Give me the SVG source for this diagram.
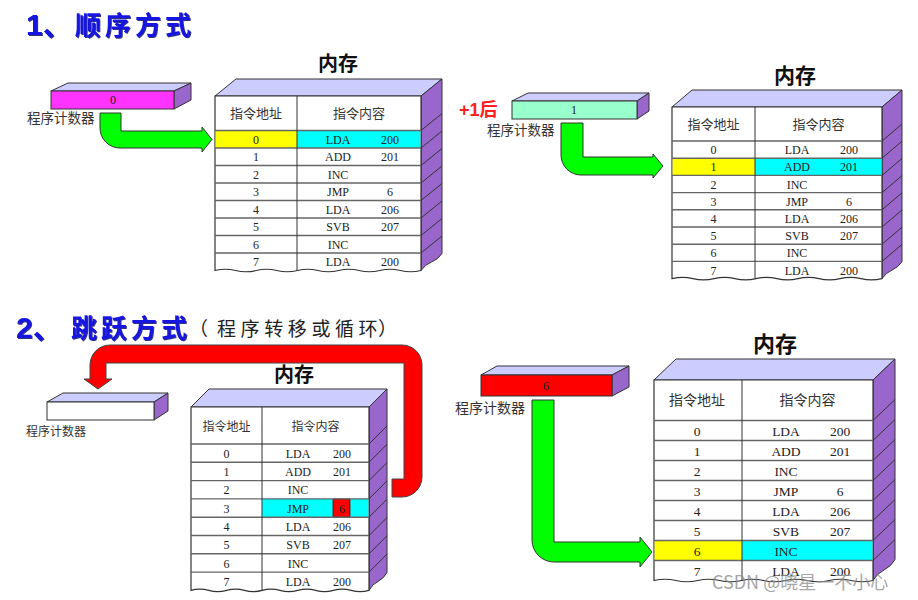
<svg xmlns="http://www.w3.org/2000/svg" width="918" height="600" viewBox="0 0 918 600">
<defs>
<style>
.ttl{font-family:"Liberation Sans","Noto Sans CJK SC",sans-serif;font-weight:bold;fill:#1414e0;filter:url(#sh)}
.sub{font-family:"Noto Sans CJK SC",sans-serif;font-size:19px;fill:#222}
.top{fill:#ccccff;stroke:#333;stroke-width:1}
.side{fill:#9966cc;stroke:#333;stroke-width:1}
.front{fill:#fff;stroke:#333;stroke-width:1.2}
.rl{stroke:#666;stroke-width:1.4;fill:none}
.dg{stroke:#333;stroke-width:1;fill:none}
.hd{font-family:"Noto Sans CJK SC",sans-serif;fill:#333;text-anchor:middle}
.td{font-family:"Liberation Serif","Noto Sans CJK SC",serif;fill:#222;text-anchor:middle}
.mt{font-family:"Noto Sans CJK SC",sans-serif;font-weight:bold;fill:#111;text-anchor:middle}
.lbl{font-family:"Noto Sans CJK SC",sans-serif;fill:#333}
.grn{fill:#00ff00;stroke:#333;stroke-width:1}
.red{fill:#ff0000;stroke:#444;stroke-width:1}
</style>
<filter id="sh" x="-5%" y="-5%" width="110%" height="120%"><feDropShadow dx="1" dy="1" stdDeviation="0.4" flood-color="#000060" flood-opacity="0.8"/></filter>
</defs>
<rect width="918" height="600" fill="#fff"/>

<!-- titles -->
<g id="title1">
<text class="ttl" x="26" y="35" font-size="30">1、</text>
<text class="ttl" x="75 105 135 165" y="35" font-size="26">顺序方式</text>
</g>
<g id="title2">
<text class="ttl" x="16" y="338" font-size="30">2、</text>
<text class="ttl" x="71 101 131 161" y="338" font-size="26">跳跃方式</text>
<text class="sub" x="189 217 240.6 264.2 287.8 311.4 335 358.6 378" y="336">（程序转移或循环）</text>
</g>

<!-- connectors -->
<g id="connectors">
<path class="grn" d="M100,113 H121 V131 H202 V127 L212,139.5 L202,152 V148 H120 A20,20 0 0 1 100,128 Z"/>
<path class="grn" d="M561,123 H583 V157 H653 V154 L663,166 L653,178 V175 H581 A20,20 0 0 1 561,155 Z"/>
<path class="red" d="M392,479 H404 V363 H106 V379 H112 L98,389 L84,379 H90 V365 A20,20 0 0 1 110,345 H402 A20,20 0 0 1 422,365 V477 A20,20 0 0 1 402,497 H392 Z"/>
<path class="grn" d="M532,400 H554 V542 H640 V537 L652,552 L640,567 V562 H554 A22,22 0 0 1 532,540 Z"/>
</g>

<!-- PC 1 -->
<g id="pc1">
<polygon class="top" points="51,91 68,83 191,83 174,91"/>
<polygon class="side" points="174,91 191,83 191,100 174,109"/>
<rect x="51" y="91" width="123" height="18" fill="#ff33ff" stroke="#333"/>
<text class="td" x="113" y="104" font-size="12">0</text>
<text class="lbl" x="27" y="123" font-size="13.5">程序计数器</text>
</g>

<!-- Memory 1 -->
<g id="mem1">
<text class="mt" x="338" y="71" font-size="20">内存</text>
<polygon class="top" points="215,96 236,79 442,79 421,96"/>
<path class="side" d="M421,96 L442,79 V253.5 q-4,6 -10.5,8.5 t-10.5,8.5 Z"/>
<path class="front" d="M215,96 H421 V270.5 q-10.3,2.5 -20.6,0 t-20.6,0 t-20.6,0 t-20.6,0 t-20.6,0 t-20.6,0 t-20.6,0 t-20.6,0 t-20.6,0 t-20.6,0 Z"/>
<rect x="215.6" y="130.5" width="81.4" height="17.5" fill="#ffff00"/>
<rect x="297" y="130.5" width="123.4" height="17.5" fill="#00ffff"/>
<path class="rl" d="M215,130.5 H421 M215,148 H421 M215,165.5 H421 M215,183 H421 M215,200.5 H421 M215,218 H421 M215,235.5 H421 M215,253 H421"/>
<path class="dg" d="M297,96 V271"/>
<path class="dg" d="M421,130.5 l21,-17 M421,148 l21,-17 M421,165.5 l21,-17 M421,183 l21,-17 M421,200.5 l21,-17 M421,218 l21,-17 M421,235.5 l21,-17 M421,253 l21,-17"/>
<text class="hd" x="256" y="118" font-size="13">指令地址</text>
<text class="hd" x="359" y="118" font-size="13">指令内容</text>
<g class="td" font-size="12">
<text x="256" y="143.7">0</text><text x="338" y="143.7">LDA</text><text x="390" y="143.7">200</text>
<text x="256" y="161.2">1</text><text x="338" y="161.2">ADD</text><text x="390" y="161.2">201</text>
<text x="256" y="178.7">2</text><text x="338" y="178.7">INC</text>
<text x="256" y="196.2">3</text><text x="338" y="196.2">JMP</text><text x="390" y="196.2">6</text>
<text x="256" y="213.7">4</text><text x="338" y="213.7">LDA</text><text x="390" y="213.7">206</text>
<text x="256" y="231.2">5</text><text x="338" y="231.2">SVB</text><text x="390" y="231.2">207</text>
<text x="256" y="248.7">6</text><text x="338" y="248.7">INC</text>
<text x="256" y="266.2">7</text><text x="338" y="266.2">LDA</text><text x="390" y="266.2">200</text>
</g>
</g>

<!-- PC 2 -->
<g id="pc2">
<text x="459" y="116" font-size="18" font-weight="bold" fill="#ff2020" font-family="Liberation Sans,'Noto Sans CJK SC',sans-serif">+1后</text>
<polygon class="top" points="512,101 528,93 649,93 637,101"/>
<polygon class="side" points="637,101 649,93 649,111 637,119"/>
<rect x="512" y="101" width="125" height="18" fill="#99ffcc" stroke="#333"/>
<text class="td" x="574" y="114" font-size="12">1</text>
<text class="lbl" x="487" y="135" font-size="13.5">程序计数器</text>
</g>

<!-- Memory 2 -->
<g id="mem2">
<text class="mt" x="795" y="83" font-size="21">内存</text>
<polygon class="top" points="672,107 692,90 902,90 882,107"/>
<path class="side" d="M882,107 L902,90 V261.6 q-4,6 -10,8.5 t-10,8.5 Z"/>
<path class="front" d="M672,107 H882 V278.6 q-10.5,2.5 -21,0 t-21,0 t-21,0 t-21,0 t-21,0 t-21,0 t-21,0 t-21,0 t-21,0 t-21,0 Z"/>
<rect x="672.6" y="158.2" width="82.4" height="17.2" fill="#ffff00"/>
<rect x="755" y="158.2" width="126.4" height="17.2" fill="#00ffff"/>
<path class="rl" d="M672,141 H882 M672,158.2 H882 M672,175.4 H882 M672,192.6 H882 M672,209.8 H882 M672,227 H882 M672,244.2 H882 M672,261.4 H882"/>
<path class="dg" d="M755,107 V279"/>
<path class="dg" d="M882,141 l20,-17 M882,158.2 l20,-17 M882,175.4 l20,-17 M882,192.6 l20,-17 M882,209.8 l20,-17 M882,227 l20,-17 M882,244.2 l20,-17 M882,261.4 l20,-17"/>
<text class="hd" x="713.5" y="129" font-size="13">指令地址</text>
<text class="hd" x="818.5" y="129" font-size="13">指令内容</text>
<g class="td" font-size="12">
<text x="713.5" y="154.1">0</text><text x="797" y="154.1">LDA</text><text x="849" y="154.1">200</text>
<text x="713.5" y="171.3">1</text><text x="797" y="171.3">ADD</text><text x="849" y="171.3">201</text>
<text x="713.5" y="188.5">2</text><text x="797" y="188.5">INC</text>
<text x="713.5" y="205.7">3</text><text x="797" y="205.7">JMP</text><text x="849" y="205.7">6</text>
<text x="713.5" y="222.9">4</text><text x="797" y="222.9">LDA</text><text x="849" y="222.9">206</text>
<text x="713.5" y="240.1">5</text><text x="797" y="240.1">SVB</text><text x="849" y="240.1">207</text>
<text x="713.5" y="257.3">6</text><text x="797" y="257.3">INC</text>
<text x="713.5" y="274.5">7</text><text x="797" y="274.5">LDA</text><text x="849" y="274.5">200</text>
</g>
</g>

<!-- PC 3 -->
<g id="pc3">
<polygon class="top" points="47,402 63,393 168,393 154,402"/>
<polygon class="side" points="154,402 168,393 168,411 154,420"/>
<rect x="47" y="402" width="107" height="18" fill="#fff" stroke="#333"/>
<text class="lbl" x="26" y="436" font-size="12">程序计数器</text>
</g>

<!-- Memory 3 -->
<g id="mem3">
<text class="mt" x="294" y="382" font-size="20">内存</text>
<polygon class="top" points="191,407 209,389 387,389 369,407"/>
<path class="side" d="M369,407 L387,389 V572.4 q-3,6 -9,9 t-9,9 Z"/>
<path class="front" d="M191,407 H369 V590.4 q-8.9,2.5 -17.8,0 t-17.8,0 t-17.8,0 t-17.8,0 t-17.8,0 t-17.8,0 t-17.8,0 t-17.8,0 t-17.8,0 t-17.8,0 Z"/>
<rect x="262" y="498.9" width="106.4" height="18.3" fill="#00ffff"/>
<rect x="333" y="499" width="17" height="18" fill="#ff0000" stroke="#600" stroke-width="0.8"/>
<path class="rl" d="M191,444 H369 M191,462.3 H369 M191,480.6 H369 M191,498.9 H369 M191,517.2 H369 M191,535.5 H369 M191,553.8 H369 M191,572.1 H369"/>
<path class="dg" d="M262,407 V591"/>
<path class="dg" d="M369,444 l18,-18 M369,462.3 l18,-18 M369,480.6 l18,-18 M369,498.9 l18,-18 M369,517.2 l18,-18 M369,535.5 l18,-18 M369,553.8 l18,-18 M369,572.1 l18,-18"/>
<text class="hd" x="226.5" y="430.5" font-size="12">指令地址</text>
<text class="hd" x="315.5" y="430.5" font-size="12">指令内容</text>
<g class="td" font-size="12">
<text x="226.5" y="457.7">0</text><text x="298" y="457.7">LDA</text><text x="342" y="457.7">200</text>
<text x="226.5" y="476">1</text><text x="298" y="476">ADD</text><text x="342" y="476">201</text>
<text x="226.5" y="494.3">2</text><text x="298" y="494.3">INC</text>
<text x="226.5" y="512.6">3</text><text x="298" y="512.6">JMP</text><text x="342" y="512.6">6</text>
<text x="226.5" y="530.9">4</text><text x="298" y="530.9">LDA</text><text x="342" y="530.9">206</text>
<text x="226.5" y="549.2">5</text><text x="298" y="549.2">SVB</text><text x="342" y="549.2">207</text>
<text x="226.5" y="567.5">6</text><text x="298" y="567.5">INC</text>
<text x="226.5" y="585.8">7</text><text x="298" y="585.8">LDA</text><text x="342" y="585.8">200</text>
</g>
</g>

<!-- PC 4 -->
<g id="pc4">
<polygon class="top" points="481,375 497,366 629,366 612,375"/>
<polygon class="side" points="612,375 629,366 629,387 612,396"/>
<rect x="481" y="375" width="131" height="21" fill="#ff0000" stroke="#333"/>
<text class="td" x="546" y="390" font-size="13">6</text>
<text class="lbl" x="455" y="413" font-size="14">程序计数器</text>
</g>

<!-- Memory 4 -->
<g id="mem4">
<text class="mt" x="775" y="352" font-size="22">内存</text>
<polygon class="top" points="654,380 676,359 895,359 873,380"/>
<path class="side" d="M873,380 L895,359 V559.5 q-4,7 -11,10.5 t-11,10.5 Z"/>
<path class="front" d="M654,380 H873 V580.5 q-10.95,2.5 -21.9,0 t-21.9,0 t-21.9,0 t-21.9,0 t-21.9,0 t-21.9,0 t-21.9,0 t-21.9,0 t-21.9,0 t-21.9,0 Z"/>
<rect x="654.6" y="540.5" width="87.4" height="20" fill="#ffff00"/>
<rect x="742" y="540.5" width="130.4" height="20" fill="#00ffff"/>
<path class="rl" d="M654,420.5 H873 M654,440.5 H873 M654,460.5 H873 M654,480.5 H873 M654,500.5 H873 M654,520.5 H873 M654,540.5 H873 M654,560.5 H873"/>
<path class="dg" d="M742,380 V581"/>
<path class="dg" d="M873,420.5 l22,-21 M873,440.5 l22,-21 M873,460.5 l22,-21 M873,480.5 l22,-21 M873,500.5 l22,-21 M873,520.5 l22,-21 M873,540.5 l22,-21 M873,560.5 l22,-21"/>
<text class="hd" x="697" y="405" font-size="14">指令地址</text>
<text class="hd" x="807.5" y="405" font-size="14">指令内容</text>
<g class="td" font-size="13.5">
<text x="697" y="435.5">0</text><text x="786" y="435.5">LDA</text><text x="840" y="435.5">200</text>
<text x="697" y="455.5">1</text><text x="786" y="455.5">ADD</text><text x="840" y="455.5">201</text>
<text x="697" y="475.5">2</text><text x="786" y="475.5">INC</text>
<text x="697" y="495.5">3</text><text x="786" y="495.5">JMP</text><text x="840" y="495.5">6</text>
<text x="697" y="515.5">4</text><text x="786" y="515.5">LDA</text><text x="840" y="515.5">206</text>
<text x="697" y="535.5">5</text><text x="786" y="535.5">SVB</text><text x="840" y="535.5">207</text>
<text x="697" y="555.5">6</text><text x="786" y="555.5">INC</text>
<text x="697" y="575.5">7</text><text x="786" y="575.5">LDA</text><text x="840" y="575.5">200</text>
</g>
</g>

<g id="watermark">
<text x="712" y="589" font-size="18" fill="#888" fill-opacity="0.75" font-family="'Noto Sans CJK SC',sans-serif">CSDN @晓星一不小心</text>
</g>
</svg>
